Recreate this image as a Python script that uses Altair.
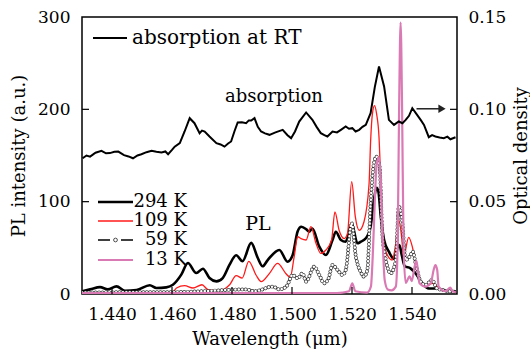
import altair as alt
import pandas as pd

# ---------------- data ----------------
abs_wl = [1.4302, 1.4315, 1.4327, 1.4345, 1.4365, 1.4380, 1.4393, 1.4408, 1.4421, 1.4440,
          1.4455, 1.4470, 1.4485, 1.4498, 1.4515, 1.4532, 1.4548, 1.4565, 1.4578, 1.4587,
          1.4600, 1.4609, 1.4626, 1.4642, 1.4659, 1.4675, 1.4692, 1.4700, 1.4709, 1.4725,
          1.4748, 1.4762, 1.4775, 1.4787, 1.4797, 1.4808, 1.4819, 1.4833, 1.4847, 1.4856,
          1.4864, 1.4875, 1.4886, 1.4897, 1.4910, 1.4925, 1.4945, 1.4969, 1.4985, 1.4997,
          1.5010, 1.5024, 1.5047, 1.5068, 1.5082, 1.5096, 1.5108, 1.5118, 1.5135, 1.5150,
          1.5163, 1.5179, 1.5190, 1.5201, 1.5212, 1.5224, 1.5235, 1.5246, 1.5262, 1.5276,
          1.5290, 1.5307, 1.5323, 1.5340, 1.5356, 1.5368, 1.5379, 1.5390, 1.5401, 1.5417,
          1.5430, 1.5440, 1.5456, 1.5467, 1.5478, 1.5492, 1.5506, 1.5518, 1.5528, 1.5545]
abs_od = [0.0735, 0.0750, 0.0744, 0.0765, 0.0775, 0.0762, 0.0763, 0.0770, 0.0771, 0.0752,
          0.0745, 0.0735, 0.0750, 0.0757, 0.0768, 0.0775, 0.0770, 0.0766, 0.0772, 0.0757,
          0.0780, 0.0798, 0.0817, 0.0880, 0.0952, 0.0925, 0.0871, 0.0885, 0.0880, 0.0853,
          0.0817, 0.0810, 0.0798, 0.0815, 0.0826, 0.0880, 0.0929, 0.0930, 0.0925, 0.0940,
          0.0939, 0.0952, 0.0905, 0.0880, 0.0870, 0.0862, 0.0875, 0.0889, 0.0860, 0.0844,
          0.0880, 0.0934, 0.0983, 0.0943, 0.0905, 0.0871, 0.0860, 0.0853, 0.0880, 0.0875,
          0.0889, 0.0907, 0.0895, 0.0898, 0.0880, 0.0889, 0.0905, 0.0916, 0.0979, 0.1120,
          0.1232, 0.1124, 0.0943, 0.0916, 0.0934, 0.0925, 0.0943, 0.0965, 0.1006, 0.0970,
          0.0940, 0.0916, 0.0849, 0.0860, 0.0853, 0.0848, 0.0844, 0.0852, 0.0838, 0.0849]

k294_wl = [1.4300, 1.4327, 1.4360, 1.4386, 1.4415, 1.4443, 1.4482, 1.4526, 1.4548, 1.4581,
           1.4603, 1.4631, 1.4653, 1.4681, 1.4703, 1.4725, 1.4748, 1.4769, 1.4792, 1.4814,
           1.4835, 1.4864, 1.4886, 1.4902, 1.4919, 1.4958, 1.4985, 1.5002, 1.5019, 1.5031,
           1.5048, 1.5057, 1.5068, 1.5091, 1.5113, 1.5135, 1.5146, 1.5163, 1.5179, 1.5199,
           1.5218, 1.5229, 1.5246, 1.5262, 1.5273, 1.5282, 1.5288, 1.5296, 1.5307, 1.5323,
           1.5340, 1.5351, 1.5358, 1.5366, 1.5376, 1.5395, 1.5412, 1.5434, 1.5456, 1.5486,
           1.5506, 1.5546]
k294_pl = [3, 5, 7.5, 5, 8.3, 3.5, 4.3, 9.4, 6.5, 7.2,
           10, 21, 33.6, 22.7, 27.4, 17.3, 13.7, 17.3, 31.8, 41.9,
           35.5, 55.4, 39, 30, 36.8, 47.7, 35, 42, 68, 72.9,
           70, 67.5, 71, 51.3, 42.2, 58.5, 67.5, 58.5, 56.6, 76.5,
           54.9, 56.6, 60.3, 72.9, 101.8, 115, 111, 83.7, 58.5, 45.8,
           38, 50, 53, 42, 30, 27.8, 22.4, 11.6, 6, 6,
           4, 3]

k109_wl = [1.4300, 1.4600, 1.4615, 1.4642, 1.4670, 1.4700, 1.4720, 1.4758, 1.4792, 1.4814,
           1.4834, 1.4856, 1.4880, 1.4897, 1.4925, 1.4952, 1.4980, 1.4994, 1.5007, 1.5019,
           1.5030, 1.5047, 1.5063, 1.5080, 1.5096, 1.5113, 1.5132, 1.5143, 1.5157, 1.5174,
           1.5185, 1.5199, 1.5211, 1.5224, 1.5240, 1.5257, 1.5262, 1.5268, 1.5275, 1.5282,
           1.5290, 1.5296, 1.5302, 1.5311, 1.5334, 1.5346, 1.5356, 1.5366, 1.5372, 1.5389,
           1.5401, 1.5412, 1.5429, 1.5445, 1.5467, 1.5500, 1.5546]
k109_pl = [0.5, 1, 6.5, 9, 6.5, 10, 4.7, 3.6, 10, 19.8,
           17.3, 35.4, 20.6, 13.4, 22.4, 33.2, 22, 18, 40, 62,
           60, 58.5, 72.9, 54.9, 44, 47.7, 58.5, 89, 69, 60,
           65.7, 121.6, 83.7, 69, 78.3, 120, 165, 195, 204, 195,
           170, 120, 70, 47.7, 36.8, 55, 80, 60, 40.4, 61.4,
           51.3, 33.2, 13.4, 8, 11.6, 4.3, 2]

k59_wl = [1.4300, 1.4500, 1.4600, 1.4700, 1.4847, 1.4875, 1.4936, 1.4958, 1.4981, 1.5002,
          1.5019, 1.5035, 1.5047, 1.5074, 1.5091, 1.5107, 1.5122, 1.5135, 1.5152, 1.5168,
          1.5179, 1.5199, 1.5213, 1.5229, 1.5240, 1.5251, 1.5262, 1.5273, 1.5281, 1.5292,
          1.5301, 1.5311, 1.5329, 1.5346, 1.5356, 1.5367, 1.5379, 1.5392, 1.5403, 1.5412,
          1.5429, 1.5445, 1.5467, 1.5483, 1.5506, 1.5546]
k59_pl = [1.5, 2, 2, 3, 5, 3, 8, 5, 8, 20.6,
          17, 22.4, 13.4, 29.6, 20.6, 11.6, 17, 31.4, 26, 20.6,
          26, 76.5, 40.4, 24, 18.8, 26, 98, 141.5, 148.7, 138,
          65.7, 40.4, 22.4, 36.8, 94.6, 80, 36.8, 40.4, 45.8, 33.2,
          13.4, 9.7, 15.2, 6, 4, 2]

k13_wl = [1.4300, 1.5150, 1.5190, 1.5201, 1.5211, 1.5250, 1.5263, 1.5269, 1.5276, 1.5282,
          1.5290, 1.5296, 1.5302, 1.5309, 1.5319, 1.5332, 1.5346, 1.5352, 1.5357, 1.5362,
          1.5367, 1.5372, 1.5379, 1.5392, 1.5399, 1.5409, 1.5415, 1.5425, 1.5445, 1.5463,
          1.5472, 1.5478, 1.5484, 1.5489, 1.5511, 1.5528, 1.5535, 1.5546]
k13_pl = [1, 1, 3, 11.6, 3, 1.5, 8, 40, 100, 140,
          148, 120, 60, 15, 5, 4, 8, 50, 200, 294,
          200, 50, 12, 19, 14, 30, 36, 11.6, 8, 12,
          26, 31.4, 26, 8, 3, 7, 3, 2]

x_ticks = [1.44, 1.46, 1.48, 1.50, 1.52, 1.54]
pl_ticks = [0, 100, 200, 300]
od_ticks = [0.0, 0.05, 0.10, 0.15]
arrow_wl = [1.5415]
arrow_wl2 = [1.5500]
arrow_od = [0.1003]

legend_top = ["absorption at RT"]
legend_pl = ["294 K", "109 K", "59 K", "13 K"]

# ---------------- styling ----------------
FONT = "DejaVu Serif"
W, H = 375, 277
BLACK = "#000000"
RED = "#ff1a1a"
PINK = "#da7ab4"

X = alt.X("wl:Q",
          scale=alt.Scale(domain=[1.430, 1.555], nice=False, zero=False),
          axis=alt.Axis(values=x_ticks, format=".3f", title="Wavelength (μm)",
                        grid=False, ticks=False, domain=False,
                        labelPadding=12, titlePadding=8))
X2 = alt.X2("wl2:Q")
Y_PL = alt.Y("pl:Q",
             scale=alt.Scale(domain=[0, 300], nice=False),
             axis=alt.Axis(values=pl_ticks, format="d", title="PL intensity (a.u.)",
                           grid=False, ticks=False, domain=False,
                           labelPadding=12, titlePadding=9))
Y_OD = alt.Y("od:Q",
             scale=alt.Scale(domain=[0, 0.15], nice=False),
             axis=alt.Axis(values=od_ticks, format=".2f", title="Optical density",
                           orient="right", grid=False, ticks=False, domain=False,
                           labelPadding=11, titlePadding=7,
                           titleAngle=270, titleBaseline="top"))

df294 = pd.DataFrame({"wl": k294_wl, "pl": k294_pl})
df109 = pd.DataFrame({"wl": k109_wl, "pl": k109_pl})
df59 = pd.DataFrame({"wl": k59_wl, "pl": k59_pl})
df13 = pd.DataFrame({"wl": k13_wl, "pl": k13_pl})
dfabs = pd.DataFrame({"wl": abs_wl, "od": abs_od})
one = pd.DataFrame({"a": [0]})

line294 = alt.Chart(df294).mark_line(color=BLACK, strokeWidth=2.6, interpolate="monotone", clip=True).encode(x=X, y=Y_PL)
line109 = alt.Chart(df109).mark_line(color=RED, strokeWidth=1.3, interpolate="monotone", clip=True).encode(x=X, y=Y_PL)
line59a = alt.Chart(df59).mark_line(color=BLACK, strokeWidth=1.0, strokeDash=[4, 3], interpolate="monotone", clip=True).encode(x=X, y=Y_PL)
line59b = alt.Chart(df59).mark_line(color="#333333", strokeWidth=3.8, strokeDash=[0.01, 3.4], strokeCap="round", interpolate="monotone", clip=True).encode(x=X, y=Y_PL)
line59c = alt.Chart(df59).mark_line(color="#ffffff", strokeWidth=2.5, strokeDash=[0.01, 3.4], strokeCap="round", interpolate="monotone", clip=True).encode(x=X, y=Y_PL)
line13 = alt.Chart(df13).mark_line(color=PINK, strokeWidth=2.2, interpolate="monotone", clip=True).encode(x=X, y=Y_PL)

# inward ticks
xt = alt.Chart(pd.DataFrame({"wl": x_ticks})).mark_rule(color=BLACK, strokeWidth=1.2).encode(
    x=X, y=alt.value(H), y2=alt.value(H - 7))
yt = alt.Chart(pd.DataFrame({"pl": [100, 200]})).mark_rule(color=BLACK, strokeWidth=1.2).encode(
    y=Y_PL, x=alt.value(0), x2=alt.value(7))

# annotations & legend
txt_pl = alt.Chart(one).mark_text(font=FONT, fontSize=19, color=BLACK, align="center", baseline="middle").encode(
    x=alt.value(176), y=alt.value(207), text=alt.value("PL"))
txt_abs = alt.Chart(one).mark_text(font=FONT, fontSize=18, color=BLACK, align="center", baseline="middle").encode(
    x=alt.value(192), y=alt.value(80), text=alt.value("absorption"))

leg_top_line = alt.Chart(one).mark_rule(color=BLACK, strokeWidth=2.2).encode(
    x=alt.value(11), x2=alt.value(45), y=alt.value(21))
leg_top_text = alt.Chart(one).mark_text(font=FONT, fontSize=20, color=BLACK, align="left", baseline="middle").encode(
    x=alt.value(50), y=alt.value(21), text=alt.value(legend_top[0]))

rows_y = [185, 204, 223, 243]
leg_layers = []
leg_layers.append(alt.Chart(one).mark_rule(color=BLACK, strokeWidth=2.4).encode(
    x=alt.value(16), x2=alt.value(51), y=alt.value(rows_y[0])))
leg_layers.append(alt.Chart(one).mark_rule(color=RED, strokeWidth=1.3).encode(
    x=alt.value(16), x2=alt.value(51), y=alt.value(rows_y[1])))
leg_layers.append(alt.Chart(one).mark_rule(color=BLACK, strokeWidth=1.3, strokeDash=[12, 11]).encode(
    x=alt.value(16), x2=alt.value(51), y=alt.value(rows_y[2])))
leg_layers.append(alt.Chart(one).mark_point(shape="circle", size=14, color=BLACK, fill="white", filled=False, strokeWidth=1).encode(
    x=alt.value(33.5), y=alt.value(rows_y[2])))
leg_layers.append(alt.Chart(one).mark_rule(color=PINK, strokeWidth=2.2).encode(
    x=alt.value(16), x2=alt.value(51), y=alt.value(rows_y[3])))
for lab, yy in zip(legend_pl, rows_y):
    leg_layers.append(alt.Chart(one).mark_text(font=FONT, fontSize=18, color=BLACK, align="right", baseline="middle").encode(
        x=alt.value(105), y=alt.value(yy), text=alt.value(lab)))

pl_group = alt.layer(line294, line109, line59a, line59b, line59c, line13, xt, yt,
                     txt_pl, txt_abs, leg_top_line, leg_top_text, *leg_layers)

# absorption group (right axis)
abs_line = alt.Chart(dfabs).mark_line(color=BLACK, strokeWidth=2.0, interpolate="linear", clip=True).encode(x=X, y=Y_OD)
odt = alt.Chart(pd.DataFrame({"od": [0.05, 0.10]})).mark_rule(color=BLACK, strokeWidth=1.2).encode(
    y=Y_OD, x=alt.value(W - 7), x2=alt.value(W))
dfarrow = pd.DataFrame({"wl": arrow_wl, "wl2": arrow_wl2, "od": arrow_od})
arrow_line = alt.Chart(dfarrow).mark_rule(color="#222222", strokeWidth=1.5).encode(x=X, x2=X2, y=Y_OD)
arrow_head = alt.Chart(pd.DataFrame({"wl": arrow_wl2, "od": arrow_od})).mark_point(
    shape="triangle-right", size=70, filled=True, color="#222222", opacity=1).encode(x=X, y=Y_OD)

abs_group = alt.layer(abs_line, odt, arrow_line, arrow_head)

chart = alt.layer(pl_group, abs_group).resolve_scale(y="independent").properties(
    width=W, height=H,
    padding={"left": 82, "top": 17, "right": 73, "bottom": 62},
    autosize=alt.AutoSizeParams(type="none"),
).configure_view(
    stroke=BLACK, strokeWidth=1.5
).configure_axis(
    labelFont=FONT, labelFontSize=17, labelColor=BLACK,
    titleFont=FONT, titleFontSize=18, titleColor=BLACK, titleFontWeight="normal",
)

chart.save("out.html", embed_options={"renderer": "svg", "actions": False})
